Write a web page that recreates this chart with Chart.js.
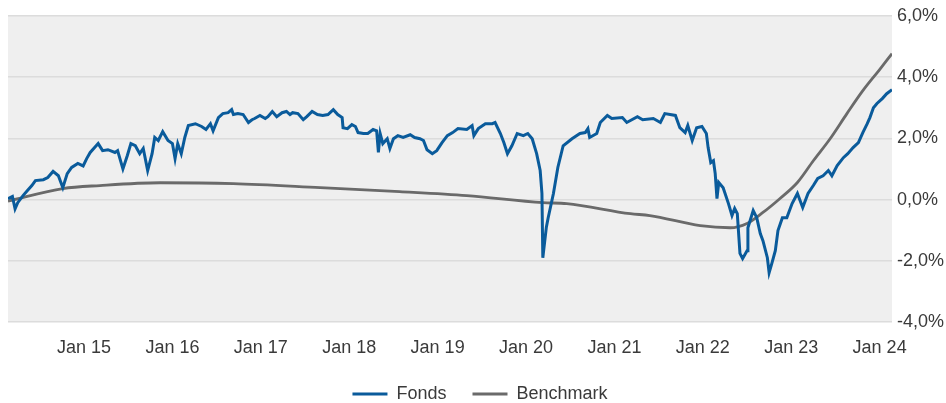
<!DOCTYPE html>
<html>
<head>
<meta charset="utf-8">
<script src="https://cdn.jsdelivr.net/npm/chart.js@4"></script>
<style>
  html, body { margin: 0; padding: 0; background: #ffffff; overflow: hidden; }
  #chart { display: block; }
</style>
</head>
<body>
<canvas id="chart" width="946" height="403"></canvas>
<script>
// Time axis in decimal years, values in percent
const tickYears = [2015, 2016, 2017, 2018, 2019, 2020, 2021, 2022, 2023, 2024];
const yTicks = [-4, -2, 0, 2, 4, 6];

const fondsDates = [
    2014.14, 2014.19, 2014.22, 2014.25, 2014.31, 2014.36, 2014.41, 2014.45, 2014.54, 2014.59,
    2014.65, 2014.71, 2014.76, 2014.81, 2014.86, 2014.93, 2014.99, 2015.03, 2015.07, 2015.16,
    2015.21, 2015.27, 2015.35, 2015.38, 2015.44, 2015.49, 2015.53, 2015.58, 2015.63, 2015.67,
    2015.72, 2015.77, 2015.80, 2015.84, 2015.89, 2015.95, 2016.00, 2016.03, 2016.06, 2016.10,
    2016.14, 2016.18, 2016.26, 2016.33, 2016.38, 2016.43, 2016.46, 2016.52, 2016.57, 2016.63,
    2016.67, 2016.69, 2016.74, 2016.80, 2016.86, 2016.90, 2016.93, 2016.99, 2017.05, 2017.08,
    2017.13, 2017.18, 2017.24, 2017.29, 2017.33, 2017.36, 2017.42, 2017.48, 2017.52, 2017.58,
    2017.64, 2017.70, 2017.76, 2017.82, 2017.87, 2017.92, 2017.93, 2017.98, 2018.03, 2018.07,
    2018.10, 2018.16, 2018.21, 2018.27, 2018.31, 2018.33, 2018.35, 2018.38, 2018.43, 2018.46,
    2018.50, 2018.55, 2018.61, 2018.69, 2018.74, 2018.80, 2018.84, 2018.88, 2018.94, 2018.99,
    2019.05, 2019.11, 2019.17, 2019.23, 2019.33, 2019.39, 2019.41, 2019.46, 2019.54, 2019.62,
    2019.65, 2019.71, 2019.75, 2019.79, 2019.84, 2019.90, 2019.97, 2020.02, 2020.07, 2020.12,
    2020.16, 2020.18, 2020.19, 2020.23, 2020.25, 2020.31, 2020.36, 2020.42, 2020.52, 2020.61,
    2020.67, 2020.70, 2020.72, 2020.80, 2020.84, 2020.92, 2020.97, 2021.09, 2021.14, 2021.26,
    2021.32, 2021.44, 2021.52, 2021.57, 2021.69, 2021.74, 2021.80, 2021.83, 2021.88, 2021.93,
    2021.99, 2022.04, 2022.06, 2022.09, 2022.12, 2022.14, 2022.16, 2022.18, 2022.23, 2022.29,
    2022.33, 2022.36, 2022.39, 2022.42, 2022.45, 2022.50, 2022.51, 2022.57, 2022.61, 2022.65,
    2022.68, 2022.73, 2022.75, 2022.78, 2022.82, 2022.85, 2022.90, 2022.95, 2023.01, 2023.07,
    2023.10, 2023.13, 2023.19, 2023.25, 2023.30, 2023.36, 2023.42, 2023.46, 2023.52, 2023.59,
    2023.64, 2023.70, 2023.76, 2023.81, 2023.86, 2023.89, 2023.93, 2023.97, 2024.03, 2024.08,
    2024.14
];
const fondsValues = [
    0.03, 0.10, -0.30, -0.10, 0.13, 0.30, 0.46, 0.62, 0.65, 0.72,
    0.92, 0.78, 0.39, 0.85, 1.05, 1.18, 1.10, 1.34, 1.54, 1.83,
    1.60, 1.63, 1.54, 1.60, 1.00, 1.44, 1.83, 1.76, 1.50, 1.67,
    0.95, 1.50, 2.03, 1.93, 2.22, 1.93, 1.83, 1.34, 1.83, 1.50,
    2.03, 2.42, 2.48, 2.39, 2.29, 2.48, 2.25, 2.68, 2.81, 2.84,
    2.94, 2.78, 2.81, 2.78, 2.52, 2.61, 2.65, 2.75, 2.65, 2.71,
    2.88, 2.71, 2.84, 2.88, 2.78, 2.84, 2.81, 2.61, 2.71, 2.88,
    2.78, 2.75, 2.78, 2.94, 2.78, 2.68, 2.35, 2.32, 2.45, 2.39,
    2.19, 2.16, 2.16, 2.29, 2.25, 1.54, 2.16, 1.83, 1.99, 1.67,
    1.99, 2.09, 2.03, 2.12, 2.03, 1.99, 1.93, 1.63, 1.50, 1.60,
    1.86, 2.09, 2.19, 2.32, 2.29, 2.42, 2.09, 2.32, 2.48, 2.48,
    2.52, 2.16, 1.86, 1.50, 1.76, 2.16, 2.09, 2.16, 1.99, 1.50,
    0.95, 0.20, -1.90, -0.90, -0.60, 0.20, 1.05, 1.76, 1.99, 2.16,
    2.19, 2.32, 2.03, 2.16, 2.52, 2.75, 2.65, 2.68, 2.52, 2.71,
    2.61, 2.65, 2.52, 2.81, 2.75, 2.35, 2.19, 2.42, 1.93, 2.35,
    2.39, 2.16, 1.70, 1.21, 1.27, 0.85, 0.03, 0.56, 0.39, -0.13,
    -0.52, -0.29, -0.46, -1.76, -1.93, -1.67, -0.92, -0.36, -0.59, -1.11,
    -1.34, -1.90, -2.39, -2.09, -1.67, -1.01, -0.59, -0.59, -0.13, 0.20,
    -0.03, -0.26, 0.20, 0.46, 0.69, 0.78, 0.95, 0.78, 1.11, 1.37,
    1.50, 1.70, 1.86, 2.19, 2.48, 2.68, 3.00, 3.14, 3.30, 3.46,
    3.59
];

const benchDates = [
    2014.14, 2014.76, 2015.18, 2015.86, 2016.69, 2017.67, 2018.57, 2019.33, 2020.19, 2020.46,
    2021.18, 2021.40, 2021.97, 2022.31, 2022.50, 2022.68, 2022.87, 2023.07, 2023.25, 2023.44,
    2023.63, 2023.81, 2024.00, 2024.14
];
const benchValues = [
    -0.05, 0.36, 0.46, 0.55, 0.52, 0.39, 0.26, 0.13, -0.10, -0.13,
    -0.46, -0.52, -0.85, -0.92, -0.78, -0.42, 0.03, 0.56, 1.27, 1.99,
    2.81, 3.56, 4.25, 4.77
];

const toPoints = (xs, ys) => xs.map((x, i) => ({ x: x, y: ys[i] }));

Chart.defaults.font.family = '"Liberation Sans", Arial, sans-serif';
Chart.defaults.font.size = 18;
Chart.defaults.color = '#3a3a3a';

// grey plot background behind the lines
const plotBackground = {
    id: 'plotBackground',
    beforeDraw(chart) {
        const { ctx, chartArea } = chart;
        ctx.save();
        ctx.fillStyle = '#efefef';
        ctx.fillRect(chartArea.left, chartArea.top, chartArea.right - chartArea.left, chartArea.bottom - chartArea.top);
        ctx.restore();
    }
};

// nudge the centred legend row slightly to the right
const legendOffset = {
    id: 'legendOffset',
    afterLayout(chart) {
        if (chart.legend) {
            chart.legend.left += 6;
        }
    }
};

const ctx = document.getElementById('chart').getContext('2d');
new Chart(ctx, {
    type: 'line',
    data: {
        datasets: [
            {
                label: 'Fonds',
                data: toPoints(fondsDates, fondsValues),
                borderColor: '#0a5b9b',
                backgroundColor: '#0a5b9b',
                borderWidth: 3,
                pointRadius: 0,
                tension: 0,
                fill: false
            },
            {
                label: 'Benchmark',
                data: toPoints(benchDates, benchValues),
                borderColor: '#6a6a6a',
                backgroundColor: '#6a6a6a',
                borderWidth: 2.8,
                pointRadius: 0,
                cubicInterpolationMode: 'monotone',
                fill: false
            }
        ]
    },
    options: {
        responsive: false,
        animation: false,
        layout: { padding: { left: 8, top: 16, right: 0, bottom: 0 } },
        plugins: {
            legend: {
                position: 'bottom',
                maxHeight: 44,
                labels: {
                    usePointStyle: true,
                    pointStyle: 'line',
                    pointStyleWidth: 35,
                    boxHeight: 18,
                    padding: 26,
                    color: '#3a3a3a'
                }
            },
            tooltip: { enabled: false }
        },
        scales: {
            x: {
                type: 'linear',
                min: 2014.14,
                max: 2024.14,
                grid: { display: false },
                border: { display: false },
                afterBuildTicks(scale) {
                    scale.ticks = tickYears.map(v => ({ value: v }));
                },
                afterFit(scale) {
                    scale.height = 37;
                },
                ticks: {
                    padding: 7,
                    maxRotation: 0,
                    autoSkip: false,
                    callback: v => 'Jan ' + String(v).slice(2)
                }
            },
            y: {
                position: 'right',
                min: -4,
                max: 6,
                afterBuildTicks(scale) {
                    scale.ticks = yTicks.map(v => ({ value: v }));
                },
                afterFit(scale) {
                    scale.width = 54;
                },
                grid: {
                    color: '#dcdcdc',
                    lineWidth: 1.5,
                    drawTicks: false
                },
                border: { display: false },
                ticks: {
                    padding: 5,
                    callback: v => v.toFixed(1).replace('.', ',') + '%'
                }
            }
        }
    },
    plugins: [plotBackground, legendOffset]
});
</script>
</body>
</html>
